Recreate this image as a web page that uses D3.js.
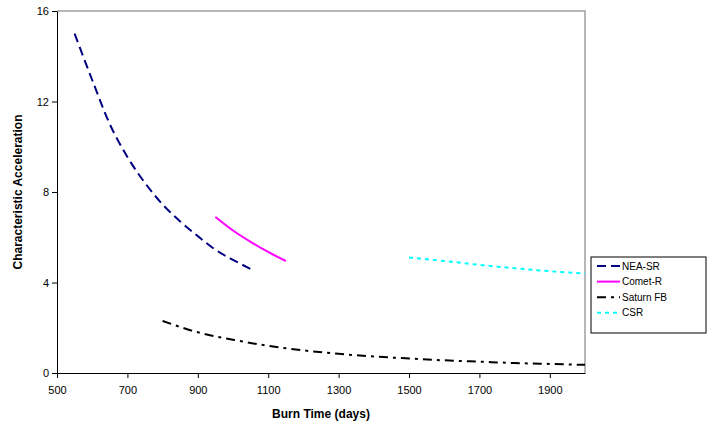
<!DOCTYPE html>
<html lang="en">
<head>
  <meta charset="UTF-8">
  <title></title>
  <style>
    html, body {
      margin: 0;
      background: #fff;
      overflow: hidden;
      width: 100%;
      height: 100%;
    }
    svg {
      font-family: "Liberation Sans", Arial, sans-serif;
    }
  </style>
</head>
<body>
  <svg width="707" height="429"></svg>
</body>
<script src="https://d3js.org/d3.v7.min.js"></script>
<script type="text/javascript">
  const neaX = [550, 600, 650, 700, 750, 800, 850, 900, 950, 1000, 1050]
  const neaY = [15.0, 12.95, 11.0, 9.55, 8.4, 7.45, 6.7, 6.05, 5.45, 5.0, 4.6]

  const cometX = [950, 1000, 1050, 1100, 1150]
  const cometY = [6.9, 6.3, 5.8, 5.35, 4.95]

  const saturnX = [800, 900, 1000, 1100, 1200, 1300, 1400, 1500, 1600, 1700, 1800, 1900, 2000]
  const saturnY = [2.3, 1.8, 1.47, 1.2, 1.0, 0.85, 0.73, 0.64, 0.56, 0.5, 0.44, 0.4, 0.36]

  const csrX = [1500, 1600, 1700, 1800, 1900, 2000]
  const csrY = [5.1, 4.95, 4.78, 4.63, 4.5, 4.4]

  const xTicks = [500, 700, 900, 1100, 1300, 1500, 1700, 1900]
  const yTicks = [0, 4, 8, 12, 16]

  const series = [
    { name: 'NEA-SR', xs: neaX, ys: neaY, color: '#000080', dash: '9,5' },
    { name: 'Comet-R', xs: cometX, ys: cometY, color: '#ff00ff', dash: null },
    { name: 'Saturn FB', xs: saturnX, ys: saturnY, color: '#000000', dash: '9,5,3,5' },
    { name: 'CSR', xs: csrX, ys: csrY, color: '#00ffff', dash: '4,4' }
  ]

  const svg = d3.select('svg')
  const plot = { left: 57, right: 585, top: 11, bottom: 373 }

  const x = d3.scaleLinear().domain([500, 2000]).range([plot.left, plot.right])
  const y = d3.scaleLinear().domain([0, 16]).range([plot.bottom, plot.top])

  // gray frame on top and right
  svg.append('path')
    .attr('d', `M${plot.left},${plot.top}H${plot.right}V${plot.bottom}`)
    .attr('fill', 'none')
    .attr('stroke', '#a0a0a0')
    .attr('stroke-width', 1.5)

  const xAxis = svg.append('g')
    .attr('transform', `translate(0,${plot.bottom})`)
    .call(d3.axisBottom(x).tickValues(xTicks).tickFormat(d3.format('d')).tickSize(5).tickSizeOuter(0))
  const yAxis = svg.append('g')
    .attr('transform', `translate(${plot.left},0)`)
    .call(d3.axisLeft(y).tickValues(yTicks).tickFormat(d3.format('d')).tickSize(5).tickSizeOuter(0))

  for (const g of [xAxis, yAxis]) {
    g.selectAll('path, line').attr('stroke', '#000').attr('stroke-width', 1)
    g.selectAll('text')
      .attr('fill', '#000')
      .style('font-family', '"Liberation Sans", Arial, sans-serif')
      .style('font-size', '11px')
  }
  xAxis.selectAll('text').attr('dy', '1.2em')
  yAxis.selectAll('text').attr('x', -8)

  const line = d3.line()
    .x(d => x(d[0]))
    .y(d => y(d[1]))
    .curve(d3.curveMonotoneX)

  svg.selectAll('path.series')
    .data(series)
    .enter()
    .append('path')
    .attr('class', 'series')
    .attr('d', s => line(s.xs.map((v, i) => [v, s.ys[i]])))
    .attr('fill', 'none')
    .attr('stroke', s => s.color)
    .attr('stroke-width', 2)
    .attr('stroke-dasharray', s => s.dash)

  // axis titles
  svg.append('text')
    .attr('x', (plot.left + plot.right) / 2)
    .attr('y', 418)
    .attr('text-anchor', 'middle')
    .style('font-size', '12px')
    .style('font-weight', 'bold')
    .text('Burn Time (days)')

  svg.append('text')
    .attr('transform', `translate(22,${(plot.top + plot.bottom) / 2}) rotate(-90)`)
    .attr('text-anchor', 'middle')
    .style('font-size', '12px')
    .style('font-weight', 'bold')
    .text('Characteristic Acceleration')

  // legend
  const legend = svg.append('g').attr('transform', 'translate(591,257)')
  legend.append('rect')
    .attr('width', 115)
    .attr('height', 76)
    .attr('fill', '#fff')
    .attr('stroke', '#000')
    .attr('stroke-width', 1)

  const items = legend.selectAll('g.item')
    .data(series)
    .enter()
    .append('g')
    .attr('class', 'item')
    .attr('transform', (d, i) => `translate(0,${9 + i * 15.6})`)

  items.append('line')
    .attr('x1', 6)
    .attr('x2', 29)
    .attr('stroke', s => s.color)
    .attr('stroke-width', 2)
    .attr('stroke-dasharray', s => s.dash)

  items.append('text')
    .attr('x', 31)
    .attr('dy', '0.35em')
    .style('font-size', '10px')
    .text(s => s.name)
</script>
</html>
